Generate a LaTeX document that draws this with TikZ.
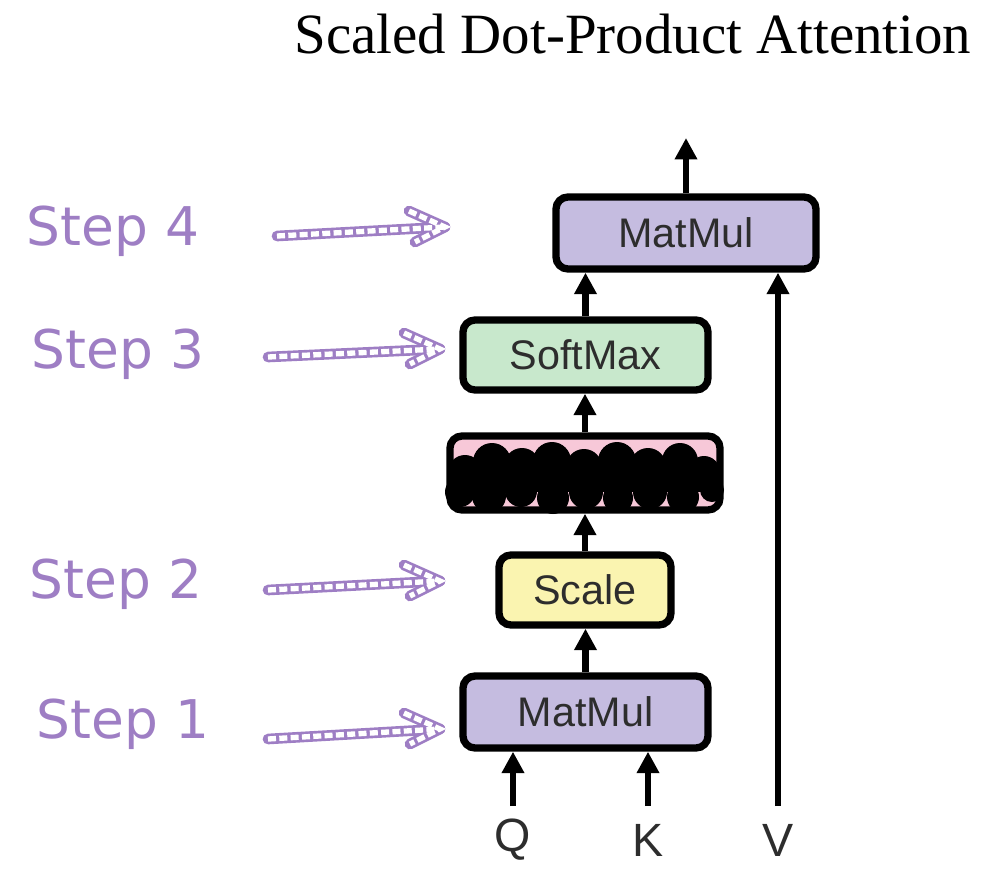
\documentclass[tikz,border=0pt]{standalone}
\usepackage{fontspec}
\setmainfont{Liberation Serif}
\newfontfamily\boxfont{Liberation Sans}
\newfontfamily\handfont{DejaVu Sans}
\usetikzlibrary{arrows.meta,calc}
\definecolor{stepc}{RGB}{158,126,196}
\definecolor{lav}{RGB}{197,188,224}
\definecolor{mint}{RGB}{200,232,204}
\definecolor{lemon}{RGB}{250,244,176}
\definecolor{rose}{RGB}{247,200,216}
\definecolor{txt}{RGB}{45,45,45}
\tikzset{
  opbox/.style={draw=black, line width=5.5pt, rounded corners=9pt, inner sep=0pt,
    font=\boxfont\fontsize{31}{31}\selectfont, text=txt},
  flow/.style={line width=4.8pt, -{Triangle[length=16pt,width=16pt]}},
  steplabel/.style={anchor=base west, text=stepc, font=\handfont\fontsize{40}{40}\selectfont},
  handout/.style={line width=8pt, draw=stepc, line cap=round, line join=round},
  handin/.style={line width=4pt, draw=white, dash pattern=on 6pt off 2.5pt},
  lbl/.style={font=\boxfont\fontsize{35}{35}\selectfont, text=txt}
}
\begin{document}
\begin{tikzpicture}[x=0.75pt,y=-0.75pt]
\useasboundingbox (0,0) rectangle (1008,886);
% title
\node[anchor=base, font=\fontsize{42.7}{44}\selectfont] (title) at (633,53) {Scaled Dot-Product Attention};
% boxes
\node[opbox, fill=lav, minimum width=195pt, minimum height=54pt] (mm2) at (686,233) {MatMul};
\node[opbox, fill=mint, minimum width=183.75pt, minimum height=52.5pt] (soft) at (585.5,355) {SoftMax};
\node[opbox, fill=rose, minimum width=202.5pt, minimum height=55.5pt] (mask) at (585,473) {};
\node[opbox, fill=lemon, minimum width=129pt, minimum height=52.5pt] (scale) at (585,590) {Scale};
\node[opbox, fill=lav, minimum width=183.75pt, minimum height=54pt] (mm1) at (585.5,712) {MatMul};
% scribble over mask
\begin{scope}
\fill[black] (458,464) rectangle (712,492);
\foreach \x/\y/\r in {465/472/17, 492/462/19, 522/466/18, 552/461/19, 584/467/18, 617/461/19, 648/466/18, 680/461/18, 704/472/16,
                      460/492/15, 489/496/17, 521/491/16, 553/498/16, 586/492/17, 618/498/15, 650/492/17, 683/497/16, 712/490/12}
  \fill[black] (\x,\y) circle (\r);
\end{scope}
% flow arrows
\draw[flow] (mm1.north) -- (mm1.north |- scale.south);
\draw[flow] (scale.north) -- (scale.north |- mask.south);
\draw[flow] (mask.north) -- (mask.north |- soft.south);
\draw[flow] (soft.north) -- (soft.north |- mm2.south);
\coordinate (out) at (686,138);
\draw[flow] (mm2.north) -- (out);
\coordinate (qin) at (513,806);
\coordinate (kin) at (648,806);
\coordinate (vin) at (778,806);
\draw[flow] (qin) -- (qin |- mm1.south);
\draw[flow] (kin) -- (kin |- mm1.south);
\draw[flow] (vin) -- (vin |- mm2.south);
\node[lbl] (q) at (513,840) {Q};
\node[lbl] (k) at (648,840) {K};
\node[lbl] (v) at (778,840) {V};
% step labels
\node[steplabel] (s4) at (22,245) {Step 4};
\node[steplabel] (s3) at (27,368) {Step 3};
\node[steplabel] (s2) at (25,598) {Step 2};
\node[steplabel] (s1) at (32,738) {Step 1};
% hand arrows
\foreach \n/\ax/\ay/\bx/\by in {4/277/236/445/227, 3/268/357/440/349, 2/268/590/440/581, 1/268/739/440/729}{
  \coordinate (a\n) at (\ax,\ay);
  \coordinate (b\n) at (\bx,\by);
  \draw[handout] (a\n) -- (b\n);
  \draw[handout] ($(b\n)+(-36,-16)$) -- (b\n) -- ($(b\n)+(-30,15)$);
  \draw[handin] (a\n) -- (b\n);
  \draw[handin] ($(b\n)+(-36,-16)$) -- (b\n) -- ($(b\n)+(-30,15)$);
}
\end{tikzpicture}
\end{document}
